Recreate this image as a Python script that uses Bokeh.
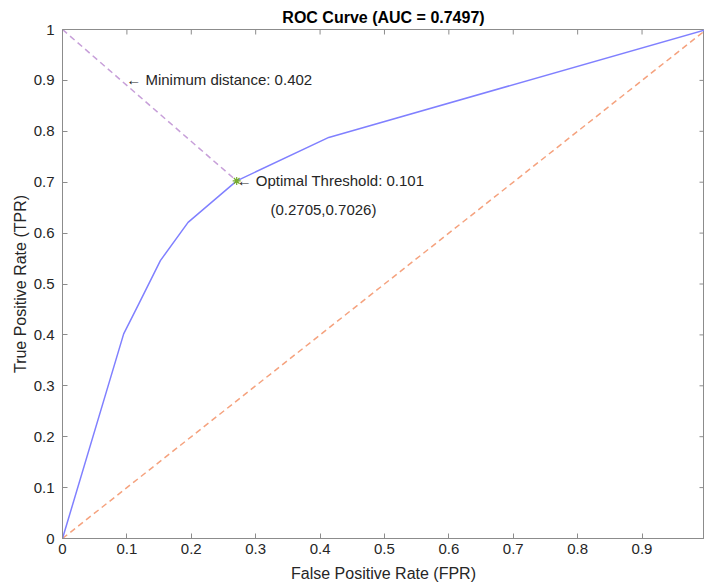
import math
from bokeh.plotting import figure
from bokeh.models import LinearAxis, Range1d, CustomJSTickFormatter, Label, FixedTicker
from bokeh.embed import file_html
from bokeh.resources import INLINE

# ROC curve data
fpr = [0.0, 0.095, 0.1185, 0.152, 0.195, 0.2705, 0.4135, 1.0]
tpr = [0.0, 0.402, 0.461, 0.546, 0.621, 0.7026, 0.788, 1.0]
chance_x = [0.0, 1.0]
chance_y = [0.0, 1.0]
opt_fpr = 0.2705
opt_tpr = 0.7026
min_dist = 0.402
opt_thr = 0.101
auc = 0.7497
x_ticks = [0, 0.1, 0.2, 0.3, 0.4, 0.5, 0.6, 0.7, 0.8, 0.9, 1.0]
y_ticks = [0, 0.1, 0.2, 0.3, 0.4, 0.5, 0.6, 0.7, 0.8, 0.9, 1.0]

FONT = "Liberation Sans"
TXT = "#262626"
AX = "#8c8c8c"
X_END = 0.997

p = figure(width=704, height=585, output_backend="svg", toolbar_location=None,
           x_range=Range1d(0, X_END), y_range=Range1d(0, 1),
           min_border_left=62, min_border_right=0, min_border_bottom=47, min_border_top=29,
           x_axis_location=None, y_axis_location=None)
p.title.text = "ROC Curve (AUC = %.4f)" % auc
p.title.align = "center"
p.title.text_font = FONT
p.title.text_font_size = "16px"
p.title.text_font_style = "bold"
p.title.text_color = "#000000"
p.title.standoff = 7
p.xgrid.visible = False
p.ygrid.visible = False
p.outline_line_color = AX

fmt = CustomJSTickFormatter(code="return Number(tick.toFixed(2)).toString();")

def style(ax, ticks):
    ax.ticker = FixedTicker(ticks=ticks)
    ax.axis_line_color = AX
    ax.major_tick_line_color = AX
    ax.major_tick_in = 5
    ax.major_tick_out = 0
    ax.minor_tick_line_color = None
    ax.formatter = fmt
    ax.major_label_text_font = FONT
    ax.major_label_text_font_size = "15px"
    ax.major_label_text_color = TXT
    ax.axis_label_text_font = FONT
    ax.axis_label_text_font_size = "16px"
    ax.axis_label_text_font_style = "normal"
    ax.axis_label_text_color = TXT

xb = LinearAxis(axis_label="False Positive Rate (FPR)")
style(xb, x_ticks)
xb.major_label_standoff = 5
xb.axis_label_standoff = 8
p.add_layout(xb, "below")

yl = LinearAxis(axis_label="True Positive Rate (TPR)")
style(yl, y_ticks)
yl.major_label_standoff = 8
yl.axis_label_standoff = 2
p.add_layout(yl, "left")

# inward ticks on the top and right edges of the box
p.scatter(x_ticks, [1.0] * len(x_ticks), marker="dash", angle=math.pi / 2, size=10,
          line_color=AX, line_width=1)
p.scatter([X_END] * len(y_ticks), y_ticks, marker="dash", size=10,
          line_color=AX, line_width=1)

# chance line
p.line(chance_x, chance_y, line_color="#f5a27e", line_width=1.5, line_dash="6 4")
# distance line
p.line([0, opt_fpr], [1, opt_tpr], line_color="#c79fd9", line_width=1.5, line_dash="6 4")
# ROC curve
p.line(fpr, tpr, line_color="#8080ff", line_width=1.5)
# optimal point
p.scatter([opt_fpr], [opt_tpr], marker="asterisk", size=8, line_color="#77ac30", line_width=1.2)

lab_kw = dict(text_font=FONT, text_font_size="15px", text_color=TXT,
              text_baseline="middle", text_align="left")
p.add_layout(Label(x=0.099, y=0.9018, text="\u2190 Minimum distance: %.3f" % min_dist, **lab_kw))
p.add_layout(Label(x=opt_fpr + 0.0, y=opt_tpr, text="\u2190 Optimal Threshold: %.3f" % opt_thr, **lab_kw))
p.add_layout(Label(x=0.323, y=0.646, text="(%.4f,%.4f)" % (opt_fpr, opt_tpr), **lab_kw))

open("out.html", "w").write(file_html(p, INLINE))
